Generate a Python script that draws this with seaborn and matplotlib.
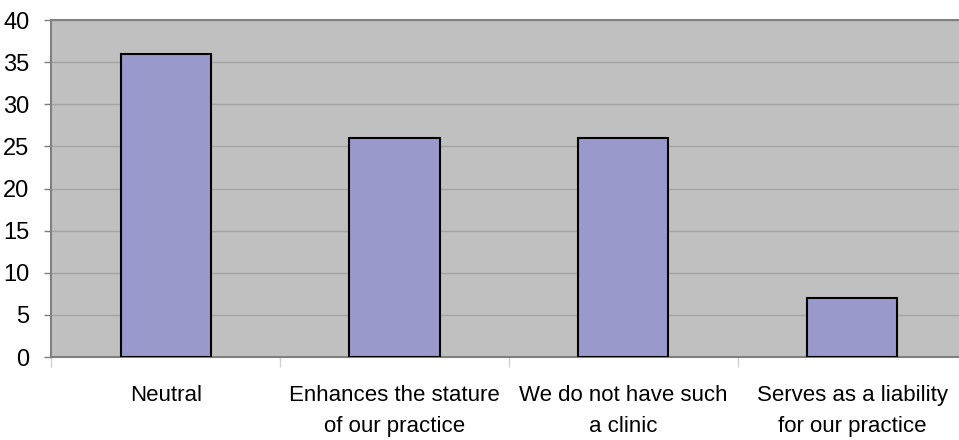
import matplotlib
matplotlib.use("Agg")
import matplotlib.pyplot as plt
import seaborn as sns
import pandas as pd
from matplotlib.ticker import FixedLocator

categories = [
    "Neutral",
    "Enhances the stature\nof our practice",
    "We do not have such\na clinic",
    "Serves as a liability\nfor our practice",
]
values = [36, 26, 26, 7]
y_ticks = [0, 5, 10, 15, 20, 25, 30, 35, 40]

sns.set_theme(style="white")
plt.rcParams["font.family"] = ["Liberation Sans", "DejaVu Sans"]

df = pd.DataFrame({"category": categories, "value": values})

fig = plt.figure(figsize=(9.59, 4.40), dpi=100)
# plot area runs slightly past the right edge of the canvas
ax = fig.add_axes([0.0537, 0.1886, 0.9540, 0.7659])
ax.set_facecolor("#C0C0C0")

sns.barplot(data=df, x="category", y="value", color="#9999CC", saturation=1,
            edgecolor="black", linewidth=1.5, width=0.395, ax=ax, zorder=3)

ax.set_xlim(-0.5, 3.5)
ax.set_ylim(0, 40)
ax.set_yticks(y_ticks)
ax.yaxis.grid(True, color="#A4A4A4", linewidth=1, zorder=0)
ax.set_axisbelow(True)
ax.set_xlabel("")
ax.set_ylabel("")

for side in ["left", "bottom", "top", "right"]:
    ax.spines[side].set_visible(True)
    ax.spines[side].set_color("#808080")
    ax.spines[side].set_linewidth(1.5)
ax.spines["right"].set_visible(False)

ax.tick_params(axis="y", labelsize=17, length=5, width=1, color="#808080",
               labelcolor="black", pad=11, left=True, direction="out")
ax.tick_params(axis="x", which="major", labelsize=16, length=0, pad=20,
               labelcolor="black")
ax.xaxis.set_minor_locator(FixedLocator([-0.5, 0.5, 1.5, 2.5, 3.5]))
ax.tick_params(axis="x", which="minor", length=7, width=1, color="#D0D0D0",
               bottom=True, direction="out")
for lbl in ax.get_xticklabels():
    lbl.set_linespacing(1.65)

fig.savefig("out.png", dpi=100, facecolor="white")
